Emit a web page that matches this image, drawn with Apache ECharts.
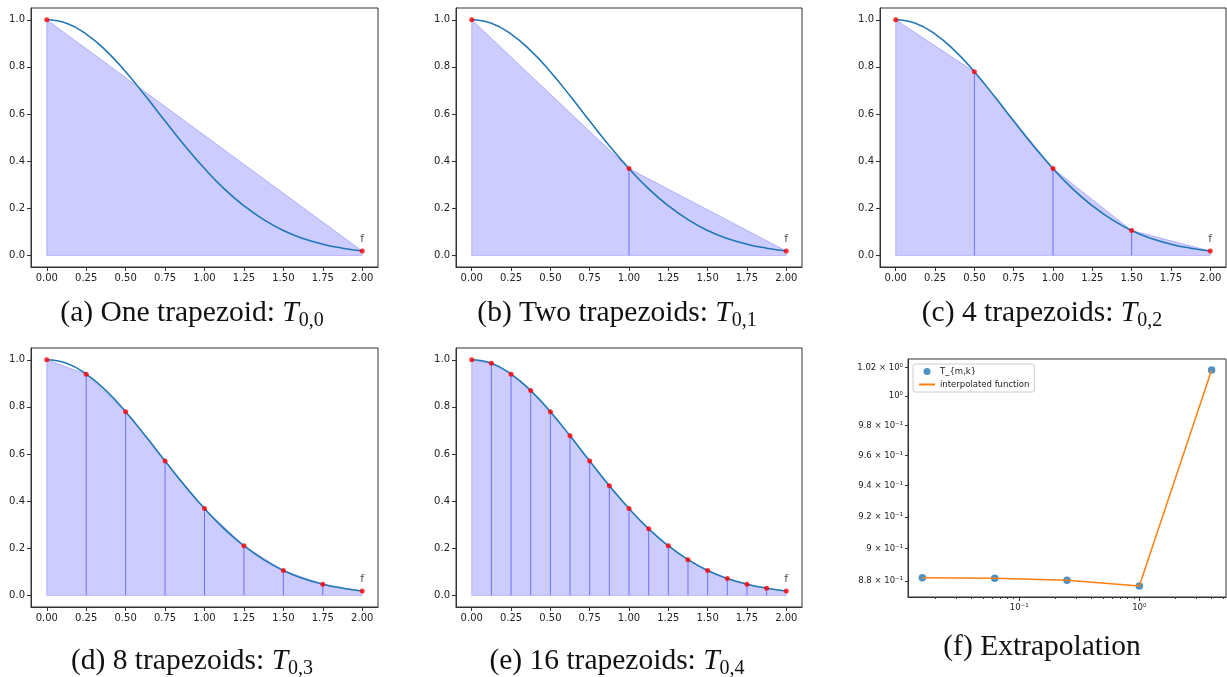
<!DOCTYPE html>
<html>
<head>
<meta charset="utf-8">
<script src="https://cdn.jsdelivr.net/npm/echarts@6/dist/echarts.min.js"></script>
<style>
  html, body { margin: 0; padding: 0; background: #fff; }
  #chart { width: 1227px; height: 677px; }
</style>
</head>
<body>
<div id="chart"></div>
<script>
// sample points of f
const xNodes = [0, 0.125, 0.25, 0.375, 0.5, 0.625, 0.75, 0.875, 1, 1.125, 1.25, 1.375, 1.5, 1.625, 1.75, 1.875, 2];
const fNodes = [1.000, 0.985, 0.939, 0.869, 0.779, 0.677, 0.570, 0.465, 0.368, 0.282, 0.210, 0.151, 0.105, 0.071, 0.047, 0.030, 0.018];
// every n-th sample is a trapezoid node in panels a..e
const panelStrides = [16, 8, 4, 2, 1];
const captionText = ['(a) One trapezoid: ', '(b) Two trapezoids: ', '(c) 4 trapezoids: ', '(d) 8 trapezoids: ', '(e) 16 trapezoids: '];
const captionSub = ['0,0', '0,1', '0,2', '0,3', '0,4'];
const xTicks = [0, 0.25, 0.5, 0.75, 1, 1.25, 1.5, 1.75, 2];
const yTicks = [0, 0.2, 0.4, 0.6, 0.8, 1.0];

// panel (f)
const hSquared = [0.015625, 0.0625, 0.25, 1, 4];
const tmk = [0.8820, 0.8817, 0.8806, 0.8770, 1.0183];
const interpolated = [0.8821, 0.8817, 0.8806, 0.8770, 1.0183];
const fYTicks = [0.88, 0.90, 0.92, 0.94, 0.96, 0.98, 1.00, 1.02];
const fYLabels = ['8.8 × 10⁻¹', '9 × 10⁻¹', '9.2 × 10⁻¹', '9.4 × 10⁻¹', '9.6 × 10⁻¹', '9.8 × 10⁻¹', '10⁰', '1.02 × 10⁰'];
const fXMajor = [0.1, 1];
const fXLabels = ['10⁻¹', '10⁰'];
const fXMinor = [0.02, 0.03, 0.04, 0.05, 0.06, 0.07, 0.08, 0.09, 0.2, 0.3, 0.4, 0.5, 0.6, 0.7, 0.8, 0.9, 2, 3, 4, 5];

const grids = [
  {left: 31, top: 8, width: 347, height: 259},
  {left: 456, top: 8, width: 346, height: 259},
  {left: 880, top: 8, width: 346, height: 259},
  {left: 31, top: 348, width: 347, height: 259},
  {left: 456, top: 348, width: 346, height: 259},
  {left: 908, top: 359, width: 318, height: 238}
];
const captionPos = [[192, 313], [617, 313], [1042, 313], [192, 661], [617, 661], [1042, 647]];

const ink = '#333';
const tickFont = 'DejaVu Sans';
const serif = 'Liberation Serif';

const xAxes = [], yAxes = [], series = [], graphics = [];

function nearestLabel(v, vals, labels) {
  let best = 0;
  for (let i = 1; i < vals.length; i++) {
    if (Math.abs(vals[i] - v) < Math.abs(vals[best] - v)) best = i;
  }
  return labels[best];
}

panelStrides.forEach((stride, p) => {
  xAxes.push({
    gridIndex: p, type: 'value', min: -0.1, max: 2.1, position: 'bottom',
    axisLine: {show: true, onZero: false, lineStyle: {color: ink}},
    axisTick: {show: true, length: 4, customValues: xTicks, lineStyle: {color: ink}},
    axisLabel: {customValues: xTicks, formatter: v => v.toFixed(2), fontSize: 10, color: '#222', fontFamily: tickFont, margin: 6},
    splitLine: {show: false}
  });
  yAxes.push({
    gridIndex: p, type: 'value', min: -0.05, max: 1.05, position: 'left',
    axisLine: {show: true, onZero: false, lineStyle: {color: ink}},
    axisTick: {show: true, length: 4, customValues: yTicks, lineStyle: {color: ink}},
    axisLabel: {customValues: yTicks, formatter: v => v.toFixed(1), fontSize: 10, color: '#222', fontFamily: tickFont, margin: 6},
    splitLine: {show: false}
  });

  const nodes = [];
  for (let i = 0; i < xNodes.length; i += stride) nodes.push([xNodes[i], fNodes[i]]);
  const last = nodes.length - 1;

  // trapezoid area (closed down to 0 at both ends)
  series.push({
    type: 'line', xAxisIndex: p, yAxisIndex: p, z: 1, silent: true,
    symbol: 'none',
    data: [[xNodes[0], 0]].concat(nodes, [[xNodes[xNodes.length - 1], 0]]),
    lineStyle: {color: 'rgba(0,0,255,0.22)', width: 1},
    areaStyle: {color: 'rgba(0,0,255,0.2)', opacity: 1},
    markLine: {
      silent: true, symbol: 'none', label: {show: false},
      lineStyle: {color: 'rgba(0,0,255,0.22)', width: 1, type: 'solid'},
      data: [[{coord: [xNodes[0], 0]}, {coord: [xNodes[xNodes.length - 1], 0]}]]
    }
  });
  // interior trapezoid edges
  if (nodes.length > 2) {
    series.push({
      type: 'bar', xAxisIndex: p, yAxisIndex: p, z: 2, silent: true,
      barWidth: 1,
      itemStyle: {color: 'rgba(0,0,255,0.45)'},
      data: nodes.slice(1, last)
    });
  }
  // function curve
  series.push({
    type: 'line', xAxisIndex: p, yAxisIndex: p, z: 3, silent: true,
    symbol: 'none', smooth: true,
    data: xNodes.map((x, i) => [x, fNodes[i]]),
    lineStyle: {color: '#1f77b4', width: 1.6}
  });
  // nodes
  series.push({
    type: 'scatter', xAxisIndex: p, yAxisIndex: p, z: 4, silent: true,
    symbolSize: 5,
    itemStyle: {color: '#ff0000'},
    data: nodes.map((d, i) => i === last ? {
      value: d,
      label: {show: true, formatter: 'f', position: 'top', distance: 4, fontSize: 11, color: '#222', fontFamily: tickFont}
    } : d)
  });

  graphics.push({
    type: 'text', x: captionPos[p][0], y: captionPos[p][1], silent: true,
    style: {
      text: '{m|' + captionText[p] + '}{t|T}{s|' + captionSub[p] + '}',
      align: 'center', verticalAlign: 'middle',
      rich: {
        m: {fontSize: 29.5, fontFamily: serif, lineHeight: 36, fill: '#111'},
        t: {fontSize: 29.5, fontFamily: serif, fontStyle: 'italic', lineHeight: 36, fill: '#111'},
        s: {fontSize: 20, fontFamily: serif, lineHeight: 17, verticalAlign: 'bottom', fill: '#111'}
      }
    }
  });
});

// panel (f): log-log extrapolation
xAxes.push({
  gridIndex: 5, type: 'log', logBase: 10, min: 0.01186, max: 5.27, position: 'bottom',
  axisLine: {show: true, onZero: false, lineStyle: {color: ink}},
  axisTick: {show: true, length: 4, customValues: fXMajor, lineStyle: {color: ink}},
  axisLabel: {customValues: fXMajor, formatter: v => nearestLabel(v, fXMajor, fXLabels), fontSize: 8.5, color: '#222', fontFamily: tickFont, margin: 6},
  splitLine: {show: false}
});
xAxes.push({
  gridIndex: 5, type: 'log', logBase: 10, min: 0.01186, max: 5.27, position: 'bottom', offset: 0,
  axisLine: {show: false, onZero: false},
  axisTick: {show: true, length: 2, customValues: fXMinor, lineStyle: {color: ink}},
  axisLabel: {show: false},
  splitLine: {show: false}
});
yAxes.push({
  gridIndex: 5, type: 'log', logBase: 10, min: 0.8704, max: 1.0261, position: 'left',
  axisLine: {show: true, onZero: false, lineStyle: {color: ink}},
  axisTick: {show: true, length: 3, customValues: fYTicks, lineStyle: {color: ink}},
  axisLabel: {customValues: fYTicks, formatter: v => nearestLabel(v, fYTicks, fYLabels), fontSize: 8.5, color: '#222', fontFamily: tickFont, margin: 5},
  splitLine: {show: false}
});
series.push({
  name: 'T_{m,k}', type: 'scatter', xAxisIndex: 5, yAxisIndex: 5, z: 3, silent: true,
  symbolSize: 7.5, itemStyle: {color: '#1f77b4'},
  data: hSquared.map((h, i) => [h, tmk[i]])
});
series.push({
  name: 'interpolated function', type: 'line', xAxisIndex: 5, yAxisIndex: 5, z: 4, silent: true,
  symbol: 'none', lineStyle: {color: '#ff7f0e', width: 1.5}, itemStyle: {color: '#ff7f0e'},
  data: hSquared.map((h, i) => [h, interpolated[i]])
});
graphics.push({
  type: 'text', x: captionPos[5][0], y: captionPos[5][1], silent: true,
  style: {text: '(f) Extrapolation', align: 'center', verticalAlign: 'middle', fontSize: 29.5, fontFamily: serif, fill: '#111'}
});

const chart = echarts.init(document.getElementById('chart'), null, {renderer: 'canvas'});
chart.setOption({
  animation: false,
  backgroundColor: '#fff',
  grid: grids.map(g => Object.assign({show: true, borderColor: ink, borderWidth: 1, backgroundColor: '#fff'}, g)),
  xAxis: xAxes,
  yAxis: yAxes,
  series: series,
  legend: {
    data: [
      {name: 'T_{m,k}', icon: 'circle'},
      {name: 'interpolated function', itemStyle: {color: 'rgba(0,0,0,0)', borderWidth: 0}}
    ],
    orient: 'vertical', left: 913, top: 364,
    backgroundColor: '#fff', borderColor: '#ccc', borderWidth: 1, borderRadius: 2,
    padding: [3, 5], itemGap: 4, itemWidth: 16, itemHeight: 7,
    textStyle: {fontSize: 8.5, color: '#222', fontFamily: tickFont},
    selectedMode: false
  },
  graphic: graphics
});
</script>
</body>
</html>
